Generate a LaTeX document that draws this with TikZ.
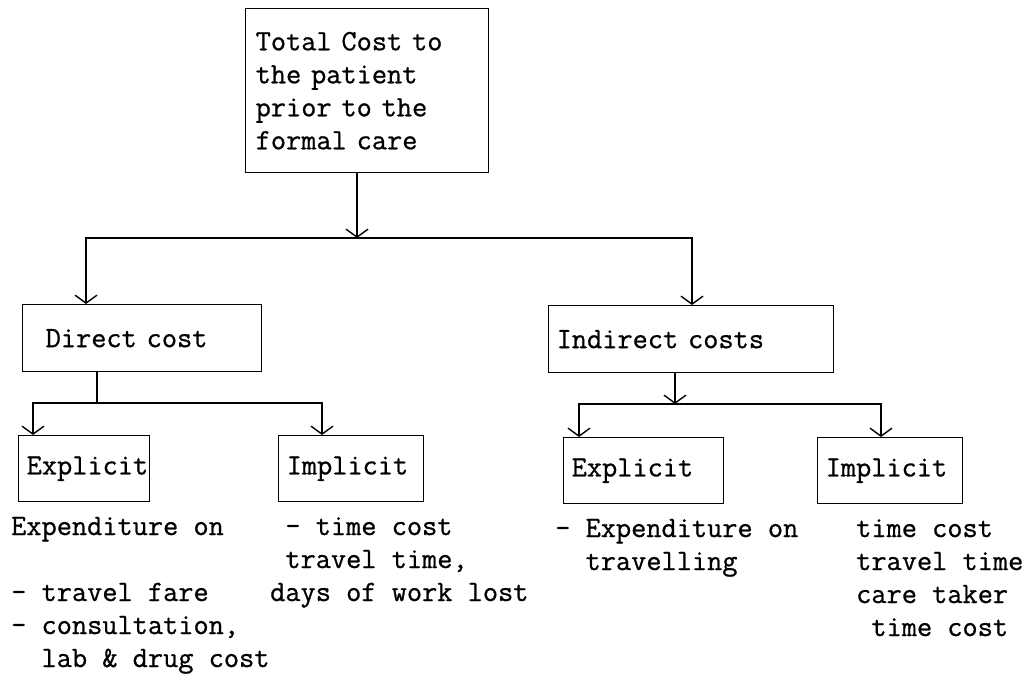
\documentclass[tikz,border=0pt]{standalone}
\usepackage{fontspec}
\usepackage{tikz}
\usetikzlibrary{arrows.meta}

\newfontfamily\typer[FakeBold=0.8]{Latin Modern Mono}

\tikzset{
	box/.style={draw, line width=1.4pt, anchor=north west, inner xsep=8pt, inner ysep=0pt, align=left},
	txt/.style={anchor=base west, inner sep=0pt, align=left},
	line/.style={line width=1.4pt},
	arr/.style={line width=1.4pt, -{Straight Barb[length=8pt,width=22pt,line width=1.4pt]}}
}

\begin{document}
\begin{tikzpicture}[x=1pt, y=-1pt, font=\fontsize{29.5}{33}\selectfont\typer]
	\useasboundingbox (0,0) rectangle (1036,673);

	\node[box, inner xsep=10pt, text width=223pt, minimum height=164pt] (total) at (245,8)
		{Total Cost to\\the patient\\prior to the\\formal care};

	\node[box, inner xsep=23pt, text width=193pt, minimum height=67pt] (direct) at (22,304) {Direct cost};
	\node[box, text width=269pt, minimum height=67pt] (indirect) at (548,305) {Indirect costs};

	\node[box, text width=115pt, minimum height=66pt] (explA) at (18,435) {Explicit};
	\node[box, text width=129pt, minimum height=66pt] (implA) at (278,435) {Implicit};
	\node[box, text width=144pt, minimum height=66pt] (explB) at (563,437) {Explicit};
	\node[box, text width=129pt, minimum height=66pt] (implB) at (817,437) {Implicit};

	% lists under the boxes (placed by their last line)
	\node[txt] (explAtxt) at (11,667)
		{Expenditure on\\\mbox{}\\- travel fare\\- consultation,\\\phantom{- }lab \& drug cost};
	\node[txt] (implAtxt) at (270,601)
		{\phantom{x}- time cost\\\phantom{x}travel time,\\days of work lost};
	\node[txt] (explBtxt) at (555,570)
		{- Expenditure on\\\phantom{- }travelling};
	\node[txt] (implBtxt) at (856,636)
		{time cost\\travel time\\care taker\\\phantom{x}time cost};

	\coordinate (jtop) at (357,238);
	\coordinate (jdirect) at (97,403);
	\coordinate (jindirect) at (675,404);

	\draw[arr] (jtop |- total.south) -- (jtop);
	\draw[arr] (jtop) -| ([xshift=64pt]direct.north west);
	\draw[arr] (jtop) -| ([xshift=144pt]indirect.north west);

	\draw[line] (jdirect |- direct.south) -- (jdirect);
	\draw[arr] (jdirect) -| ([xshift=15pt]explA.north west);
	\draw[arr] (jdirect) -| ([xshift=44pt]implA.north west);

	\draw[arr] (jindirect |- indirect.south) -- (jindirect);
	\draw[arr] (jindirect) -| ([xshift=16pt]explB.north west);
	\draw[arr] (jindirect) -| ([xshift=64pt]implB.north west);

\end{tikzpicture}
\end{document}
